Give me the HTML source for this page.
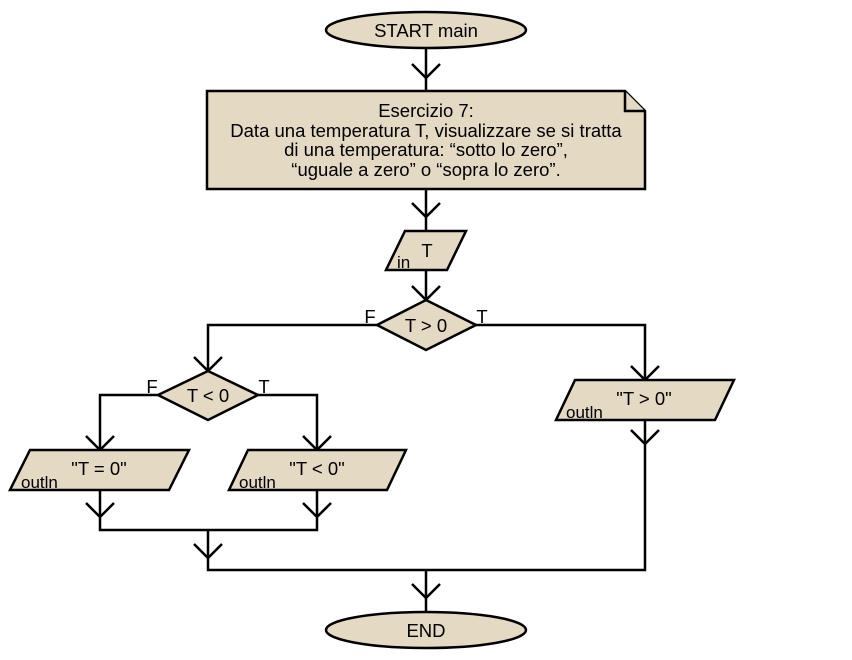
<!DOCTYPE html>
<html><head><meta charset="utf-8"><style>body{margin:0;background:#fff}svg{display:block}</style></head><body>
<svg width="852" height="660" viewBox="0 0 852 660" xmlns="http://www.w3.org/2000/svg" style="font-family:'Liberation Sans',Arial,sans-serif">
<g fill="none" stroke="#000" stroke-width="2.5">
<path d="M426 48V91M412 64L426 78L440 64"/>
<path d="M426 189V231M412 203L426 217L440 203"/>
<path d="M426 270V300M412 286L426 300L440 286"/>
<path d="M377 325H208V371M194 357L208 371L222 357"/>
<path d="M476 325H645V380M631 366L645 380L659 366"/>
<path d="M158 395H100V450M86 436L100 450L114 436"/>
<path d="M258 395H317V450M303 436L317 450L331 436"/>
<path d="M100 490V530H317V490M86 503L100 517L114 503M303 503L317 517L331 503"/>
<path d="M208 530V570H645V420M194 544L208 558L222 544M631 430L645 444L659 430"/>
<path d="M426 570V612M412 584L426 598L440 584"/>
</g>
<g fill="#e4d9c2" stroke="#000" stroke-width="2.5">
<ellipse cx="426" cy="30" rx="100" ry="18"/>
<ellipse cx="426" cy="630" rx="100" ry="18"/>
<path d="M207 91H625L645 111V189H207Z"/>
<path d="M625 91V111H645"/>
<path d="M405 231H466L447 270H386Z"/>
<path d="M426 300L476 325L426 350L377 325Z"/>
<path d="M208 371L258 395L208 420L158 395Z"/>
<path d="M30 450H189L169 490H10Z"/>
<path d="M248 450H406L387 490H229Z"/>
<path d="M575 380H734L715 420H556Z"/>
</g>
<g font-size="18.5" text-anchor="middle" fill="#000">
<text x="426" y="37">START main</text>
<text x="426" y="637">END</text>
<text x="426" y="117">Esercizio 7:</text>
<text x="426" y="137">Data una temperatura T, visualizzare se si tratta</text>
<text x="426" y="156">di una temperatura: “sotto lo zero”,</text>
<text x="426" y="176">“uguale a zero” o “sopra lo zero”.</text>
<text x="427" y="257">T</text>
<text x="426" y="332">T &gt; 0</text>
<text x="208" y="402">T &lt; 0</text>
<text x="370" y="323">F</text>
<text x="482" y="323">T</text>
<text x="152" y="393">F</text>
<text x="264" y="393">T</text>
<text x="99" y="475">"T = 0"</text>
<text x="317" y="475">"T &lt; 0"</text>
<text x="644" y="405">"T &gt; 0"</text>
</g>
<g font-size="17" fill="#000">
<text x="397" y="268">in</text>
<text x="21" y="488">outln</text>
<text x="239" y="488">outln</text>
<text x="566" y="418">outln</text>
</g>
</svg>
</body></html>
